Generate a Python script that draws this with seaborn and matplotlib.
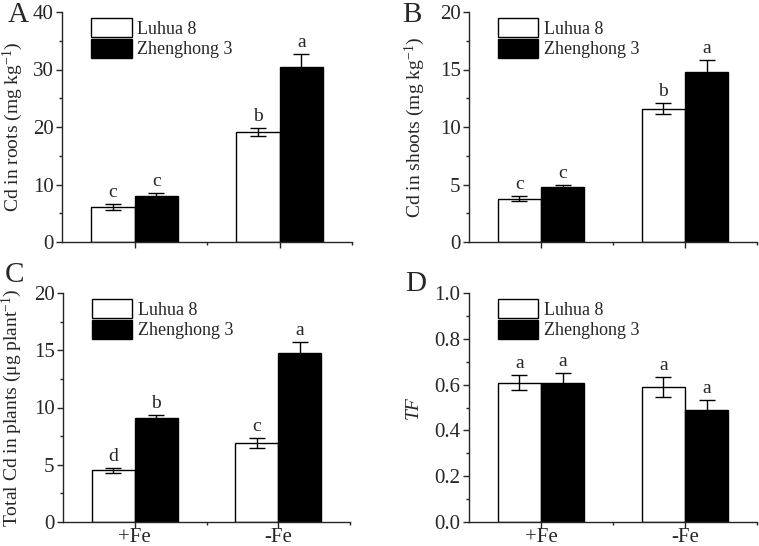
import pandas as pd
import seaborn as sns
import matplotlib.pyplot as plt
from matplotlib.ticker import MultipleLocator, FixedLocator

# values
treatments = ["+Fe", "-Fe"]
cultivars = ["Luhua 8", "Zhenghong 3"]

# order per panel: Luhua +Fe, Luhua -Fe, Zhenghong +Fe, Zhenghong -Fe
roots_mean = [6.1, 19.1, 8.0, 30.4]
roots_err = [0.45, 0.7, 0.45, 2.3]
roots_letters = ["c", "b", "c", "a"]

shoots_mean = [3.77, 11.6, 4.76, 14.8]
shoots_err = [0.2, 0.5, 0.17, 1.0]
shoots_letters = ["c", "b", "c", "a"]

total_mean = [4.5, 6.9, 9.07, 14.72]
total_err = [0.18, 0.45, 0.3, 1.0]
total_letters = ["d", "c", "b", "a"]

tf_mean = [0.609, 0.590, 0.609, 0.490]
tf_err = [0.032, 0.044, 0.04, 0.044]
tf_letters = ["a", "a", "a", "a"]

sns.set_style("ticks")
plt.rcParams["font.family"] = ["Liberation Serif", "DejaVu Serif"]
plt.rcParams["mathtext.fontset"] = "custom"
plt.rcParams["mathtext.rm"] = "Liberation Serif"
plt.rcParams["mathtext.it"] = "Liberation Serif:italic"


def make_df(means):
    rows = []
    i = 0
    for cv in cultivars:
        for tr in treatments:
            rows.append({"treatment": tr, "cultivar": cv, "value": means[i]})
            i += 1
    return pd.DataFrame(rows)


def draw_panel(ax, means, errs, letters, ylim, major, minor, ylabel, label_x, show_x):
    df = make_df(means)
    sns.barplot(data=df, x="treatment", y="value", hue="cultivar",
                order=treatments, hue_order=cultivars,
                palette=["white", "black"], edgecolor="black", linewidth=1,
                width=0.6, errorbar=None, legend=False, ax=ax)
    bar_groups = list(ax.containers)
    i = 0
    for cont in bar_groups:
        for bar in cont.patches:
            xc = bar.get_x() + bar.get_width() / 2
            h = bar.get_height()
            ax.errorbar(xc, h, yerr=errs[i], fmt="none", ecolor="black",
                        elinewidth=1, capsize=6, capthick=1, zorder=5)
            ax.annotate(letters[i], (xc, h + errs[i]), xytext=(0, 5),
                        textcoords="offset points", ha="center", va="baseline",
                        fontsize=14)
            i += 1
    ax.legend(bar_groups, cultivars, loc="upper left",
              bbox_to_anchor=(0.1, 0.975), frameon=False, fontsize=13,
              handlelength=2.25, handleheight=1.3, labelspacing=0.05,
              handletextpad=0.3, borderpad=0, borderaxespad=0)
    ax.set_xlim(-0.5, 1.5)
    ax.set_ylim(*ylim)
    ax.yaxis.set_major_locator(MultipleLocator(major))
    ax.yaxis.set_minor_locator(MultipleLocator(minor))
    ax.xaxis.set_minor_locator(FixedLocator([0.5, 1.5]))
    ax.tick_params(which="major", direction="out", length=4, width=1,
                   labelsize=15, pad=2)
    ax.tick_params(axis="x", which="major", pad=0)
    ax.tick_params(which="minor", direction="out", length=2.5, width=1)
    if not show_x:
        ax.set_xticklabels(["", ""])
    ax.set_xlabel("")
    ax.set_ylabel(ylabel, fontsize=14)
    ax.yaxis.set_label_coords(label_x, 0.5)
    sns.despine(ax=ax)
    for sp in ["left", "bottom"]:
        ax.spines[sp].set_linewidth(1)


fig = plt.figure(figsize=(7.59, 5.46), dpi=100)
ax_a = fig.add_axes([62 / 759, 1 - 242 / 546, 290 / 759, 230 / 546])
ax_b = fig.add_axes([469 / 759, 1 - 242 / 546, 288 / 759, 230 / 546])
ax_c = fig.add_axes([63 / 759, 1 - 522 / 546, 287 / 759, 229 / 546])
ax_d = fig.add_axes([469 / 759, 1 - 522 / 546, 288 / 759, 229 / 546])

draw_panel(ax_a, roots_mean, roots_err, roots_letters, (0, 40), 10, 5,
           "Cd in roots (mg kg$^{-1}$)", -0.128, False)
draw_panel(ax_b, shoots_mean, shoots_err, shoots_letters, (0, 20), 5, 2.5,
           "Cd in shoots (mg kg$^{-1}$)", -0.146, False)
draw_panel(ax_c, total_mean, total_err, total_letters, (0, 20), 5, 2.5,
           "Total Cd in plants (μg plant$^{-1}$)", -0.136, True)
draw_panel(ax_d, tf_mean, tf_err, tf_letters, (0, 1.0), 0.2, 0.1,
           "TF", -0.165, True)
ax_d.yaxis.label.set_style("italic")
ax_d.yaxis.set_major_formatter(plt.FormatStrFormatter("%.1f"))

fig.text(8 / 759, 1 - 2 / 546, "A", fontsize=21, va="top", ha="left")
fig.text(402 / 759, 1 - 2 / 546, "B", fontsize=21, va="top", ha="left")
fig.text(5 / 759, 1 - 262 / 546, "C", fontsize=21, va="top", ha="left")
fig.text(405 / 759, 1 - 271 / 546, "D", fontsize=21, va="top", ha="left")

plt.savefig("out.png", dpi=100)
